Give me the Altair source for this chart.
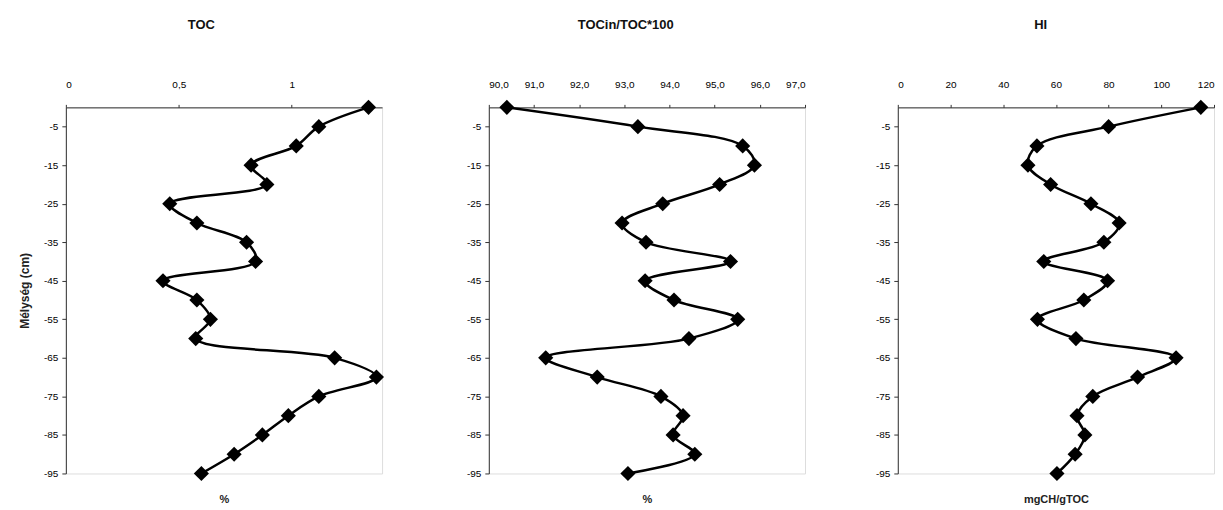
import altair as alt
import pandas as pd

depth = [0, -5, -10, -15, -20, -25, -30, -35, -40, -45, -50, -55, -60, -65, -70, -75, -80, -85, -90, -95]
toc = [1.34, 1.12, 1.02, 0.82, 0.89, 0.46, 0.58, 0.80, 0.84, 0.43, 0.58, 0.64, 0.575, 1.19, 1.375, 1.12, 0.985, 0.87, 0.745, 0.60]
tocin = [90.40, 93.30, 95.62, 95.88, 95.11, 93.85, 92.95, 93.48, 95.35, 93.46, 94.10, 95.51, 94.43, 91.26, 92.40, 93.81, 94.30, 94.08, 94.56, 93.08]
hi = [115, 80, 52.8, 49.4, 58, 73.3, 84, 78.2, 55.4, 79.6, 70.6, 53, 67.6, 105.6, 91, 74, 68, 71, 67.3, 60.4]

y_ticks = [-5, -15, -25, -35, -45, -55, -65, -75, -85, -95]
toc_ticks = [0, 0.5, 1]
tocin_ticks = [90, 91, 92, 93, 94, 95, 96, 97]
hi_ticks = [0, 20, 40, 60, 80, 100, 120]

df = pd.DataFrame({"depth": depth, "toc": toc, "tocin": tocin, "hi": hi})

FONT = "Liberation Sans"


def panel(col, title, unit, domain, ticks, label_expr, ytitle, yext):
    yaxis_kw = dict(values=y_ticks, labelExpr="toString(datum.value)", tickSize=4,
                    labelPadding=4, domainColor="#333", tickColor="#333",
                    minExtent=yext, grid=False)
    if ytitle:
        yaxis_kw.update(title=ytitle, titleFontSize=12, titleFontWeight="bold",
                        titlePadding=12, titleColor="#222")
    else:
        yaxis_kw.update(title=None)
    y = alt.Y("depth:Q", scale=alt.Scale(domain=[-95, 0], nice=False, zero=False),
              axis=alt.Axis(**yaxis_kw))
    xscale = alt.Scale(domain=domain, nice=False, zero=False)
    line = alt.Chart(df).mark_line(color="black", strokeWidth=2.5, interpolate="catmull-rom").encode(
        x=alt.X(f"{col}:Q", scale=xscale,
                axis=alt.Axis(orient="top", values=ticks, labelExpr=label_expr, title=None,
                              tickSize=3, labelPadding=15, domainColor="#333", tickColor="#333",
                              grid=False)),
        y=y,
        order=alt.Order("depth:Q", sort="descending"),
    )
    pts = alt.Chart(df).mark_point(shape="diamond", filled=True, color="black", size=230, opacity=1).encode(
        x=alt.X(f"{col}:Q", scale=xscale,
                axis=alt.Axis(orient="bottom", labels=False, ticks=False, domain=False, grid=False,
                              title=unit, titleFontSize=11, titleFontWeight="bold",
                              titlePadding=20, titleColor="#222")),
        y=y,
    )
    return alt.layer(line, pts).resolve_axis(x="independent").properties(
        width=317, height=367,
        title=alt.TitleParams(title, fontSize=13, fontWeight="bold", font=FONT, color="#111",
                              anchor="middle", frame="bounds", offset=48),
    )


p1 = panel("toc", "TOC", "%", [0, 1.4], toc_ticks,
           "replace(toString(datum.value), '.', ',')", "Mélység (cm)", 10)
p2 = panel("tocin", "TOCin/TOC*100", "%", [90, 97], tocin_ticks,
           "replace(format(datum.value, '.1f'), '.', ',')", None, 43)
p3 = panel("hi", "HI", "mgCH/gTOC", [0, 120], hi_ticks,
           "toString(datum.value)", None, 31)

chart = alt.hconcat(p1, p2, p3, spacing=60).properties(
    padding={"left": 10, "top": 9, "right": 0, "bottom": 0}
).configure_view(stroke="#888", strokeWidth=1).configure_axis(
    labelFont=FONT, titleFont=FONT, labelFontSize=11, labelFontWeight="bold", labelColor="#222"
).configure(background="white")

chart.save("out.html", embed_options={"renderer": "svg", "actions": False})
